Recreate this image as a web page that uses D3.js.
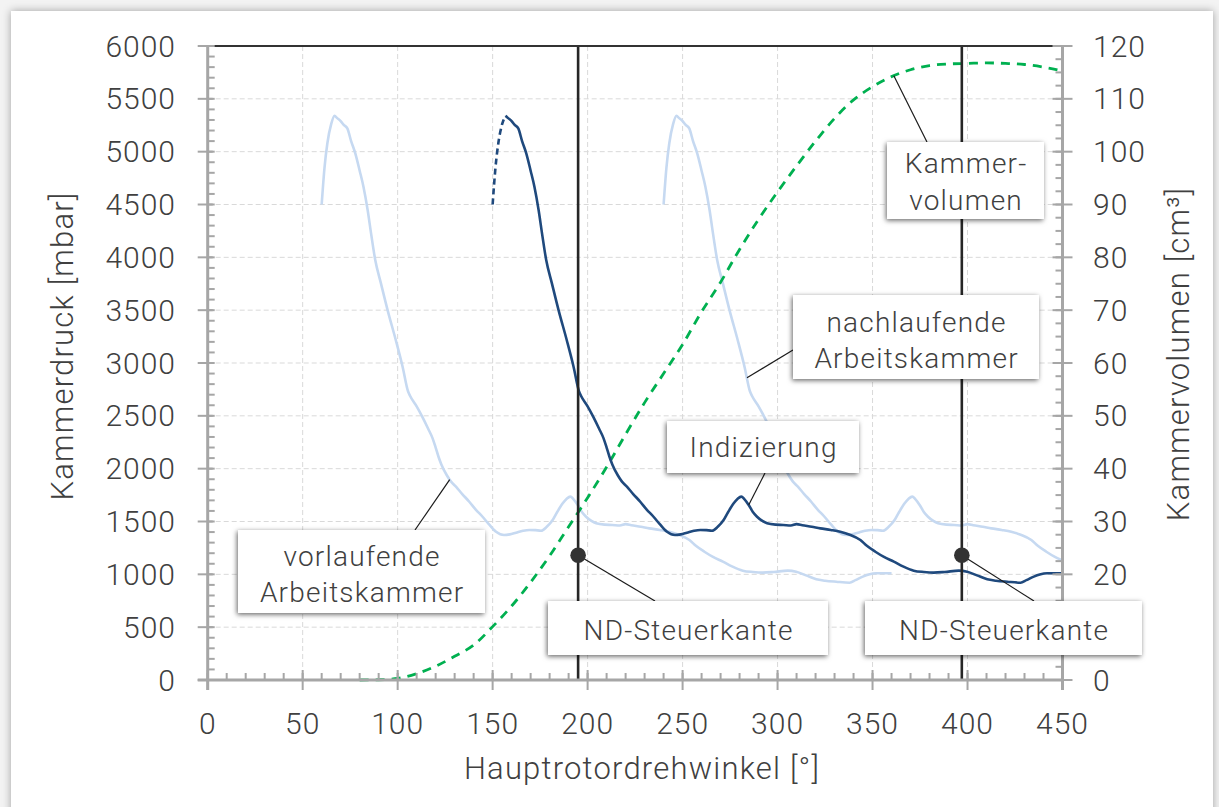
<!DOCTYPE html>
<html>
<head>
<meta charset="utf-8">
<script src="https://cdn.jsdelivr.net/npm/d3@7"></script>
<style>
  html, body { margin: 0; padding: 0; background: #f3f3f3; }
  svg { display: block; }
  text { font-family: Roboto, "Noto Sans", sans-serif; font-weight: 300; fill: #404040; }
</style>
</head>
<body>
<svg id="chart" width="1219" height="807"></svg>
<script>
// Kammerdruck der indizierten Arbeitskammer über dem Hauptrotordrehwinkel
const angleDeg = [150, 151.5, 153, 155, 156.8, 158, 160, 161.5, 163.5, 165.5, 167.7, 170, 172, 174.2, 176, 178.2,
  181.2, 184.7, 189, 192.6, 195.5, 196.5, 200, 203, 206, 208.4, 210, 211.5, 213, 215.8, 218, 220.7, 224, 227.7,
  231, 234.7, 238, 241.8, 246, 249, 252.3, 256, 259.3, 262.5, 265.5, 268.5, 271.6, 274, 276.9, 279, 280.9, 282.5,
  284.8, 287, 289.2, 292, 294.5, 299, 303, 307, 310, 313, 318, 322.5, 328, 333, 338, 343.6, 347, 351.5, 356,
  361.2, 366, 371.7, 377, 382.2, 388, 395.4, 399.8, 405, 410.4, 415, 420.9, 427.9, 431, 434.9, 438, 441.9, 446, 450];
const pressureMbar = [4500, 4850, 5080, 5260, 5340, 5320, 5290, 5255, 5220, 5100, 4984, 4820, 4669, 4448, 4227, 3975,
  3754, 3501, 3218, 2965, 2730, 2690, 2590, 2490, 2380, 2287, 2200, 2113, 2040, 1940, 1880, 1829, 1760, 1687,
  1615, 1545, 1475, 1403, 1372, 1378, 1394, 1412, 1420, 1418, 1413, 1450, 1514, 1590, 1672, 1715, 1735, 1712,
  1656, 1590, 1545, 1505, 1483, 1470, 1467, 1462, 1475, 1465, 1450, 1435, 1420, 1403, 1375, 1325, 1270, 1214, 1165,
  1120, 1075, 1035, 1022, 1016, 1022, 1035, 1025, 990, 953, 940, 930, 921, 945, 978, 998, 1010, 1010, 1010];
// Messung ab dem Druckmaximum, davor gestrichelt
const measuredFromDeg = 156.8;

// Vorlaufende (-90°) und nachlaufende (+90°) Arbeitskammer
const chamberOffsetDeg = [-90, 90];

// Kammervolumen
const volumeAngleDeg = [80, 90, 100, 110, 120, 130, 140, 150, 160, 170, 180, 190, 200, 210, 220, 230, 240, 250, 260,
  270, 280, 290, 300, 310, 320, 330, 340, 350, 360, 370, 380, 390, 400, 410, 420, 430, 440, 450];
const volumeCm3 = [0, 0.05, 0.3, 1.2, 2.6, 4.5, 6.6, 10.1, 14, 18.5, 23.5, 29, 34.5, 40.3, 46.5, 52.5, 58, 63.5, 69.7,
  75.3, 81.5, 87.2, 92.4, 97.3, 102, 106.3, 109.8, 112.3, 114.2, 115.5, 116.3, 116.6, 116.7, 116.8, 116.7, 116.5, 116, 115.3];

// Steuerkanten (Winkel) und Markierungsdruck
const controlEdgeDeg = [195, 397];
const controlEdgeMarkMbar = 1180;

// Achsenteilungen
const xTicks = [0, 50, 100, 150, 200, 250, 300, 350, 400, 450];
const yTicks = [0, 500, 1000, 1500, 2000, 2500, 3000, 3500, 4000, 4500, 5000, 5500, 6000];
const y2Ticks = [0, 10, 20, 30, 40, 50, 60, 70, 80, 90, 100, 110, 120];
// Beschriftung "10" der rechten Achse liegt unter dem rechten Steuerkanten-Feld
const y2HiddenLabels = [10];

const svg = d3.select("#chart");
const W = 1219, H = 807;

// Karte mit Schatten
const defs = svg.append("defs");
const cardShadow = defs.append("filter").attr("id", "cardShadow")
  .attr("x", "-5%").attr("y", "-5%").attr("width", "110%").attr("height", "110%");
cardShadow.append("feDropShadow").attr("dx", 0).attr("dy", 0).attr("stdDeviation", 4)
  .attr("flood-color", "#000").attr("flood-opacity", 0.35);
const boxShadow = defs.append("filter").attr("id", "boxShadow")
  .attr("x", "-20%").attr("y", "-40%").attr("width", "140%").attr("height", "180%");
boxShadow.append("feDropShadow").attr("dx", -1).attr("dy", 1.5).attr("stdDeviation", 2.6)
  .attr("flood-color", "#000").attr("flood-opacity", 0.6);

svg.append("rect").attr("x", 0).attr("y", 0).attr("width", W).attr("height", H).attr("fill", "#f3f3f3");
svg.append("rect").attr("x", 11).attr("y", 11).attr("width", 1202).attr("height", 820)
  .attr("fill", "#fff").attr("filter", "url(#cardShadow)");

const pL = 207.7, pR = 1062.5, pT = 46, pB = 680;
const x = d3.scaleLinear().domain([0, 450]).range([pL, pR]);
const y = d3.scaleLinear().domain([0, 6000]).range([pB, pT]);
const y2 = d3.scaleLinear().domain([0, 120]).range([pB, pT]);

defs.append("clipPath").attr("id", "plotClip").append("rect")
  .attr("x", pL).attr("y", pT - 5).attr("width", pR - pL).attr("height", pB - pT + 10);

// Gitternetz
const grid = svg.append("g").attr("stroke", "#d9d9d9").attr("stroke-width", 1).attr("stroke-dasharray", "5,3");
grid.selectAll("line.v").data(xTicks.filter(t => t > 0 && t < 450)).join("line").attr("class", "v")
  .attr("x1", d => x(d)).attr("x2", d => x(d)).attr("y1", pT).attr("y2", pB);
grid.selectAll("line.h").data(yTicks.filter(t => t > 0 && t < 6000)).join("line").attr("class", "h")
  .attr("x1", pL).attr("x2", pR).attr("y1", d => y(d)).attr("y2", d => y(d));

const series = angleDeg.map((a, i) => ({ a, p: pressureMbar[i] }));
const lineP = d3.line().x(d => x(d.a)).y(d => y(d.p)).curve(d3.curveMonotoneX);
const plot = svg.append("g").attr("clip-path", "url(#plotClip)");

// Benachbarte Arbeitskammern
chamberOffsetDeg.forEach(off => {
  plot.append("path")
    .datum(series.map(d => ({ a: d.a + off, p: d.p })))
    .attr("d", lineP).attr("fill", "none")
    .attr("stroke", "#c6d9f1").attr("stroke-width", 2.6).attr("stroke-linejoin", "round");
});

// Kammervolumen (rechte Achse)
const volSeries = volumeAngleDeg.map((a, i) => ({ a, v: volumeCm3[i] }));
plot.append("path").datum(volSeries)
  .attr("d", d3.line().x(d => x(d.a)).y(d => y2(d.v)).curve(d3.curveMonotoneX))
  .attr("fill", "none").attr("stroke", "#00b050").attr("stroke-width", 2.8)
  .attr("stroke-dasharray", "9,7");

// Indizierte Arbeitskammer
plot.append("path").datum(series.filter(d => d.a <= measuredFromDeg))
  .attr("d", lineP).attr("fill", "none").attr("stroke", "#1f497d").attr("stroke-width", 2.6)
  .attr("stroke-dasharray", "6,4");
plot.append("path").datum(series.filter(d => d.a >= measuredFromDeg))
  .attr("d", lineP).attr("fill", "none").attr("stroke", "#1f497d").attr("stroke-width", 2.6)
  .attr("stroke-linejoin", "round");

// Steuerkanten
svg.append("g").selectAll("line").data(controlEdgeDeg).join("line")
  .attr("x1", d => x(d)).attr("x2", d => x(d)).attr("y1", pT).attr("y2", pB)
  .attr("stroke", "#262626").attr("stroke-width", 2.6);

// Obere Begrenzung
svg.append("line").attr("x1", pL).attr("x2", pR).attr("y1", pT).attr("y2", pT)
  .attr("stroke", "#333").attr("stroke-width", 2);

// Achsen
const axisColor = "#a6a6a6";
const axes = svg.append("g").attr("stroke", axisColor);
function minor(lo, hi, step) { return d3.range(lo, hi + step / 2, step); }
// X-Achse
axes.append("line").attr("x1", pL - 10).attr("x2", pR).attr("y1", pB).attr("y2", pB).attr("stroke-width", 3);
axes.selectAll("line.xm").data(minor(0, 450, 10)).join("line").attr("class", "xm")
  .attr("x1", d => x(d)).attr("x2", d => x(d)).attr("y1", pB - 7).attr("y2", pB).attr("stroke-width", 2);
axes.selectAll("line.xM").data(xTicks).join("line").attr("class", "xM")
  .attr("x1", d => x(d)).attr("x2", d => x(d)).attr("y1", pB - 10).attr("y2", pB + 10).attr("stroke-width", 2);
// Linke Achse
axes.append("line").attr("x1", pL).attr("x2", pL).attr("y1", pT).attr("y2", pB + 10).attr("stroke-width", 3);
axes.selectAll("line.ym").data(minor(0, 6000, 100)).join("line").attr("class", "ym")
  .attr("x1", pL).attr("x2", pL + 7).attr("y1", d => y(d)).attr("y2", d => y(d)).attr("stroke-width", 2);
axes.selectAll("line.yM").data(yTicks).join("line").attr("class", "yM")
  .attr("x1", pL - 10).attr("x2", pL + 5).attr("y1", d => y(d)).attr("y2", d => y(d)).attr("stroke-width", 2);
// Rechte Achse
axes.append("line").attr("x1", pR).attr("x2", pR).attr("y1", pT).attr("y2", pB + 10).attr("stroke-width", 3);
axes.selectAll("line.y2m").data(minor(0, 120, 2.5)).join("line").attr("class", "y2m")
  .attr("x1", pR - 7).attr("x2", pR).attr("y1", d => y2(d)).attr("y2", d => y2(d)).attr("stroke-width", 2);
axes.selectAll("line.y2M").data(y2Ticks).join("line").attr("class", "y2M")
  .attr("x1", pR - 10).attr("x2", pR + 10).attr("y1", d => y2(d)).attr("y2", d => y2(d)).attr("stroke-width", 2);

// Achsbeschriftungen
const tickFont = 30, tickSpacing = "1px";
svg.append("g").selectAll("text").data(xTicks).join("text")
  .attr("x", d => x(d)).attr("y", pB + 43).attr("text-anchor", "middle").attr("dominant-baseline", "central")
  .style("font-size", tickFont + "px").style("letter-spacing", tickSpacing).text(d => d);
svg.append("g").selectAll("text").data(yTicks).join("text")
  .attr("x", 176).attr("y", d => y(d)).attr("text-anchor", "end").attr("dominant-baseline", "central")
  .style("font-size", tickFont + "px").style("letter-spacing", tickSpacing).text(d => d);
svg.append("g").selectAll("text").data(y2Ticks.filter(t => !y2HiddenLabels.includes(t))).join("text")
  .attr("x", 1093).attr("y", d => y2(d)).attr("text-anchor", "start").attr("dominant-baseline", "central")
  .style("font-size", tickFont + "px").style("letter-spacing", tickSpacing).text(d => d);

const titleStyle = sel => sel.attr("text-anchor", "middle").attr("dominant-baseline", "central")
  .style("font-size", "31px").style("letter-spacing", "1.2px");
svg.append("text").attr("x", 642).attr("y", 768).call(titleStyle).text("Hauptrotordrehwinkel [°]");
svg.append("text").attr("transform", "translate(62,346) rotate(-90)").call(titleStyle).text("Kammerdruck [mbar]");
svg.append("text").attr("transform", "translate(1178,354) rotate(-90)").call(titleStyle).text("Kammervolumen [cm³]");

// Interpolation eines Kurvenpunktes für Hinweislinien
function interp(xs, ys, a) {
  const i = Math.max(1, Math.min(xs.length - 1, d3.bisectLeft(xs, a)));
  const t = (a - xs[i - 1]) / (xs[i] - xs[i - 1]);
  return ys[i - 1] + t * (ys[i] - ys[i - 1]);
}
const pAt = (a, off) => interp(angleDeg.map(v => v + off), pressureMbar, a);

// Beschriftungsfelder: Anker im Datenraum, Feld in Pixeln
const notes = [
  { ax: x(127.4), ay: y(pAt(127.4, -90)), lx: 415, ly: 530,
    box: [238, 530, 247, 83], lines: ["vorlaufende", "Arbeitskammer"], ty: [556, 592] },
  { ax: x(283.9), ay: y(pAt(283.9, 90)), lx: 793, ly: 350,
    box: [793, 295, 246, 84], lines: ["nachlaufende", "Arbeitskammer"], ty: [322, 358] },
  { ax: x(284.8), ay: y(pAt(284.8, 0)), lx: 765, ly: 473,
    box: [667, 421, 192, 52], lines: ["Indizierung"], ty: [447] },
  { ax: x(361.2), ay: y2(interp(volumeAngleDeg, volumeCm3, 361.2)), lx: 927, ly: 142,
    box: [887, 142, 157, 77], lines: ["Kammer-", "volumen"], ty: [163, 200] },
  { ax: x(controlEdgeDeg[0]), ay: y(controlEdgeMarkMbar), lx: 655, ly: 601,
    box: [548, 601, 280, 54], lines: ["ND-Steuerkante"], ty: [630] },
  { ax: x(controlEdgeDeg[1]), ay: y(controlEdgeMarkMbar), lx: 1034, ly: 601,
    box: [865, 601, 277, 54], lines: ["ND-Steuerkante"], ty: [630] }
];

svg.append("g").selectAll("line").data(notes).join("line")
  .attr("x1", d => d.ax).attr("y1", d => d.ay).attr("x2", d => d.lx).attr("y2", d => d.ly)
  .attr("stroke", "#1a1a1a").attr("stroke-width", 1.2);

// Markierungspunkte der Steuerkanten
svg.append("g").selectAll("circle").data(controlEdgeDeg).join("circle")
  .attr("cx", d => x(d)).attr("cy", y(controlEdgeMarkMbar)).attr("r", 7.8).attr("fill", "#333");

const boxes = svg.append("g").selectAll("g").data(notes).join("g");
boxes.append("rect")
  .attr("x", d => d.box[0]).attr("y", d => d.box[1]).attr("width", d => d.box[2]).attr("height", d => d.box[3])
  .attr("fill", "#fff").attr("filter", "url(#boxShadow)");
boxes.each(function (d) {
  const g = d3.select(this);
  d.lines.forEach((t, i) => {
    g.append("text").attr("x", d.box[0] + d.box[2] / 2 + 0.6).attr("y", d.ty[i])
      .attr("text-anchor", "middle").attr("dominant-baseline", "central")
      .style("font-size", "28px").style("letter-spacing", "1.2px").text(t);
  });
});
</script>
</body>
</html>
